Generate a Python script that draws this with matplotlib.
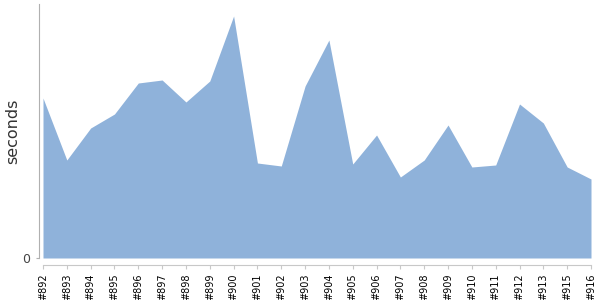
import numpy as np
import matplotlib.pyplot as plt

# Build labels and timings (seconds)
builds = ["#892", "#893", "#894", "#895", "#896", "#897", "#898", "#899",
          "#900", "#901", "#902", "#903", "#904", "#905", "#906", "#907",
          "#908", "#909", "#910", "#911", "#912", "#913", "#915", "#916"]
seconds = [160, 98, 130, 144, 175, 178, 156, 177,
           242, 95, 92, 172, 218, 94, 123, 81,
           98, 133, 91, 93, 154, 135, 91, 79]

x = np.arange(len(builds))

fig = plt.figure(figsize=(6, 3), dpi=100)
ax = fig.add_axes([43 / 600, 42 / 300, 548 / 600, 254 / 300])

# spine positions first (moving a spine resets the tick labels)
for side in ["top", "right"]:
    ax.spines[side].set_visible(False)
ax.spines["left"].set_position(("outward", 3))
ax.spines["bottom"].set_position(("outward", 5))
ax.spines["left"].set_color("#b0b0b0")
ax.spines["bottom"].set_color("#c8c8c8")

ax.fill_between(x, 0, seconds, color="#8fb2da", linewidth=0)

ax.set_xlim(0, len(builds) - 1)
ax.set_ylim(0, 254)

ax.set_xticks(x)
ax.set_xticklabels(builds, rotation=90, fontsize=7, color="black")
ax.set_yticks([0])
ax.set_yticklabels(["0"], fontsize=9, color="#444444")
ax.tick_params(axis="x", length=3, color="#c8c8c8", pad=3)
ax.tick_params(axis="y", length=2, color="#b0b0b0", pad=4)

ax.set_ylabel("seconds", fontsize=11.5, color="#333333", va="center")
ax.yaxis.set_label_coords(-0.055, 0.5)

fig.savefig("out.png", dpi=100)
